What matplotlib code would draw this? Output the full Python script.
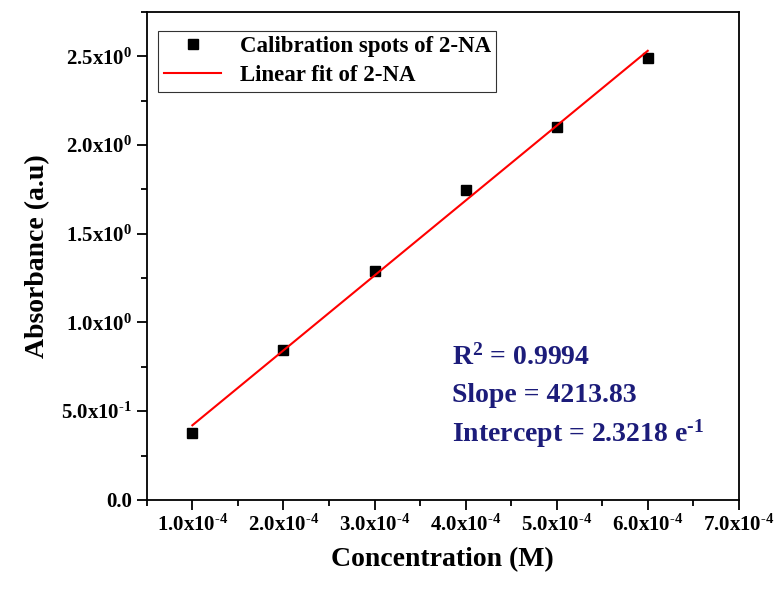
import numpy as np
import matplotlib
matplotlib.use("Agg")
import matplotlib.pyplot as plt
from matplotlib.ticker import FixedLocator, MultipleLocator

plt.rcParams['font.family'] = ['Liberation Serif', 'DejaVu Serif']
plt.rcParams['font.weight'] = 'bold'
plt.rcParams['mathtext.fontset'] = 'custom'
plt.rcParams['mathtext.rm'] = 'Liberation Serif:bold'
plt.rcParams['mathtext.bf'] = 'Liberation Serif:bold'
plt.rcParams['mathtext.it'] = 'Liberation Serif:bold'

# データ
conc = [1e-4, 2e-4, 3e-4, 4e-4, 5e-4, 6e-4]
absorb = [0.378, 0.846, 1.292, 1.749, 2.099, 2.489]
xticks = [1e-4, 2e-4, 3e-4, 4e-4, 5e-4, 6e-4, 7e-4]
xlabels = [r'1.0x10$^{\text{-}4}$', r'2.0x10$^{\text{-}4}$', r'3.0x10$^{\text{-}4}$',
           r'4.0x10$^{\text{-}4}$', r'5.0x10$^{\text{-}4}$', r'6.0x10$^{\text{-}4}$',
           r'7.0x10$^{\text{-}4}$']
yticks = [0.0, 0.5, 1.0, 1.5, 2.0, 2.5]
ylabels = ['0.0', r'5.0x10$^{\text{-}1}$', '1.0x10$^{0}$', '1.5x10$^{0}$',
           '2.0x10$^{0}$', '2.5x10$^{0}$']

# 線形フィット
slope, intercept = np.polyfit(conc, absorb, 1)
fit_x = np.array([conc[0], conc[-1]])
fit_y = slope * fit_x + intercept

fig = plt.figure(figsize=(7.81, 5.93), dpi=100)
ax = fig.add_axes([0.188, 0.157, 0.758, 0.823])

ax.plot(conc, absorb, 's', color='black', markersize=7, label='Calibration spots of 2-NA')
ax.plot(fit_x, fit_y, color='red', linewidth=1.5, label='Linear fit of 2-NA')

ax.set_xlim(0.5e-4, 7e-4)
ax.set_ylim(0, 2.75)

ax.xaxis.set_major_locator(FixedLocator(xticks))
ax.set_xticklabels(xlabels)
ax.xaxis.set_minor_locator(MultipleLocator(0.5e-4))
ax.yaxis.set_major_locator(FixedLocator(yticks))
ax.set_yticklabels(ylabels)
ax.yaxis.set_minor_locator(MultipleLocator(0.25))

ax.tick_params(which='major', direction='out', length=7, width=1.3, labelsize=15)
ax.tick_params(which='minor', direction='out', length=4, width=1.3)
for s in ax.spines.values():
    s.set_linewidth(1.3)

ax.set_xlabel('Concentration (M)', fontsize=20, fontweight='bold', labelpad=8)
ax.set_ylabel('Absorbance (a.u)', fontsize=20, fontweight='bold', labelpad=8)

leg = ax.legend(loc='upper left', fontsize=16.5, frameon=True, fancybox=False,
                edgecolor='black', handlelength=2.5, borderpad=0.25,
                labelspacing=0.35, bbox_to_anchor=(0.0, 0.985))
leg.get_frame().set_linewidth(0.8)

navy = '#1c1c7a'
ax.text(0.515, 0.292, 'R$^{2}$ = 0.9994', transform=ax.transAxes, fontsize=20,
        color=navy, fontweight='bold', va='center')
ax.text(0.515, 0.213, 'Slope = 4213.83', transform=ax.transAxes, fontsize=20,
        color=navy, fontweight='bold', va='center')
ax.text(0.515, 0.135, r'Intercept = 2.3218 e$^{\text{-}1}$', transform=ax.transAxes,
        fontsize=20, color=navy, fontweight='bold', va='center')

plt.savefig("out.png", dpi=100)
plt.close()
